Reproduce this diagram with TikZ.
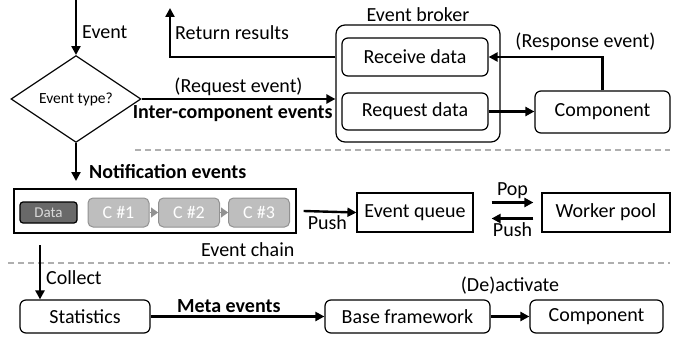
\documentclass[tikz,border=0pt]{standalone}
\usepackage{fontspec}
\setmainfont{Carlito}
\usetikzlibrary{shapes.geometric, arrows.meta, positioning, calc}
\definecolor{chaingray}{RGB}{190, 190, 190}
\definecolor{chainedge}{RGB}{145, 145, 145}
\definecolor{datagray}{RGB}{105, 105, 105}
\definecolor{sepgray}{RGB}{175, 175, 175}
\newcommand\mainfs{\fontsize{20}{23}\selectfont}
\tikzset{
    rbox/.style={rectangle, rounded corners=6pt, draw, line width=1.2pt,
                 inner sep=0pt, font=\mainfs},
    sbox/.style={rectangle, draw, line width=1.2pt, inner sep=0pt,
                 font=\mainfs},
    deci/.style={diamond, draw, line width=1.2pt, inner sep=0pt,
                 minimum width=130pt, minimum height=52pt,
                 font=\fontsize{15.5}{18}\selectfont},
    cbox/.style={rectangle, rounded corners=5pt, draw=chainedge,
                 fill=chaingray, line width=1pt, text=white,
                 minimum width=61pt, minimum height=29pt, inner sep=0pt,
                 font=\fontsize{18}{21}\selectfont},
    arr/.style={line width=2.4pt, -{Triangle[length=9pt, width=9pt]}},
    lbl/.style={font=\mainfs, inner sep=2pt},
    blbl/.style={font=\mainfs\bfseries, inner sep=2pt},
    sep/.style={draw=sepgray, line width=1.3pt, dash pattern=on 6pt off 4pt},
}
\begin{document}
\begin{tikzpicture}[x=1pt, y=-1pt]
    \useasboundingbox (0,0) rectangle (678,337);

    % Top: event dispatch
    \coordinate (in) at (76,0);
    \node[deci] (type) at (76,99) {Event type?};
    \node[rbox, rounded corners=9pt, minimum width=164pt, minimum height=117pt] (broker) at (418,83.5) {};
    \node[lbl, above=1pt of broker] (brokerlbl) {Event broker};
    \node[rbox, minimum width=146pt, minimum height=38pt] (recv) at (415,57) {Receive data};
    \node[rbox, minimum width=146pt, minimum height=37pt] (req) at (415,111.5) {Request data};
    \node[rbox, minimum width=135pt, minimum height=42pt] (comp) at (602.5,112) {Component};
    \coordinate (ret) at (170,8);

    \draw[arr] (in) -- node[lbl, right=3pt, pos=0.58] {Event} (type.north);
    \draw[arr] (type.east) -- node[lbl, above=0pt, pos=0.5] {(Request event)}
        node[blbl, below=3pt, pos=0.47] {Inter-component events} (type.east -| broker.west);
    \draw[arr] (recv.west -| broker.west) -| node[lbl, right=2pt, pos=0.75] {Return results} (ret);
    \draw[arr] (req.east) -- (req.east -| comp.west);
    \draw[arr] (comp.north) |- node[lbl, above=3pt, pos=0.575] {(Response event)} (recv.east);

    \draw[sep] (135,150) -- (670,150);

    % Middle: notification events
    \coordinate (notif) at (76,181);
    \node[sbox, minimum width=282pt, minimum height=44pt] (chain) at (155,211) {};
    \node[lbl, below left=7pt and 0pt of chain.south east] (chainlbl) {Event chain};
    \node[rbox, rounded corners=3pt, fill=datagray, text=gray!30, minimum width=57pt,
          minimum height=21pt, font=\fontsize{15}{18}\selectfont] (data) at (48.5,212.5) {Data};
    \node[cbox] (c1) at (118.5,212.5) {C \#1};
    \node[cbox] (c2) at (189,212.5) {C \#2};
    \node[cbox] (c3) at (259,212.5) {C \#3};
    \node[sbox, minimum width=116pt, minimum height=39pt] (queue) at (415,212.5) {Event queue};
    \node[sbox, minimum width=128pt, minimum height=39pt] (pool) at (606,212.5) {Worker pool};

    \draw[arr] (type.south) -- node[blbl, right=10pt, pos=0.74] {Notification events} (notif);
    \draw[chainedge, line width=0.1pt, -{Triangle[length=7pt, width=10pt]}] (c1.east) -- (c2.west);
    \draw[chainedge, line width=0.1pt, -{Triangle[length=7pt, width=10pt]}] (c2.east) -- (c3.west);
    \draw[arr] ([xshift=7pt]chain.east) -- node[lbl, below=1pt, pos=0.45] {Push} (queue.west);
    \draw[arr] ([xshift=18pt, yshift=10pt]queue.east) -- node[lbl, above=1pt] {Pop} ([xshift=-8pt, yshift=10pt]pool.west);
    \draw[arr] ([xshift=-8pt, yshift=-6pt]pool.west) -- node[lbl, below=1pt] {Push} ([xshift=18pt, yshift=-6pt]queue.east);

    \draw[sep] (8,263) -- (670,263);

    % Bottom: meta events
    \coordinate (collect) at (40,245);
    \node[rbox, minimum width=130pt, minimum height=33pt] (stats) at (85,316.5) {Statistics};
    \node[rbox, minimum width=165pt, minimum height=33pt] (base) at (407.5,316.5) {Base framework};
    \node[rbox, minimum width=133pt, minimum height=33pt] (comp2) at (596.5,316.5) {Component};

    \draw[arr] (collect) -- node[lbl, right=3pt, pos=0.6] {Collect} (collect |- stats.north);
    \draw[arr] (stats.east) -- node[blbl, above=1pt, pos=0.45] {Meta events} (base.west);
    \draw[arr] (base.east) -- node[lbl, above=19pt] {(De)activate} (comp2.west);
\end{tikzpicture}
\end{document}
